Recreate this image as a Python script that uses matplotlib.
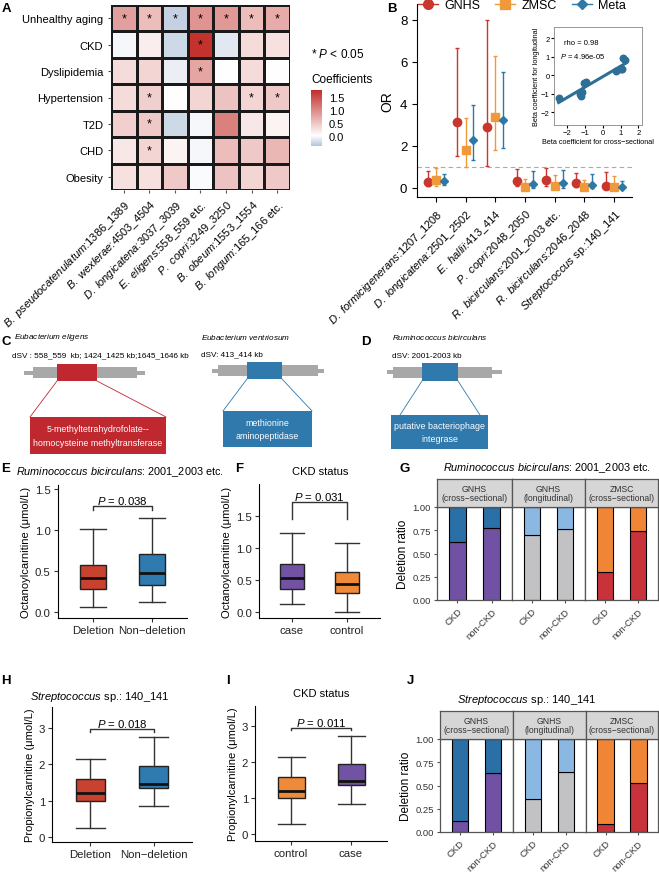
import matplotlib
matplotlib.use('Agg')
import matplotlib.pyplot as plt
import numpy as np
from matplotlib.colors import LinearSegmentedColormap, Normalize
from matplotlib.patches import Rectangle
from matplotlib.lines import Line2D

plt.rcParams['font.family'] = ['Liberation Sans', 'DejaVu Sans']
plt.rcParams['mathtext.fontset'] = 'custom'
plt.rcParams['mathtext.rm'] = 'Liberation Sans'
plt.rcParams['mathtext.it'] = 'Liberation Sans:italic'

W, H = 659, 878

# ---- data ----
hm_rows = ['Unhealthy aging', 'CKD', 'Dyslipidemia', 'Hypertension', 'T2D', 'CHD', 'Obesity']
hm_species = ['B. pseudocatenulatum', 'B. wexlerae', 'D. longicatena', 'E. eligens',
              'P. copri', 'B. obeum', 'B. longum']
hm_regions = [':1386_1389', ':4503_4504', ':3037_3039', ':558_559 etc.',
              ':3249_3250', ':1553_1554', ':165_166 etc.']
hm_coef = [[0.80, 0.55, -0.30, 0.90, 0.85, 0.55, 0.70],
           [-0.05, 0.15, -0.25, 1.70, -0.15, 0.30, 0.25],
           [0.30, 0.35, -0.10, 0.75, 0.00, 0.30, 0.00],
           [0.30, 0.40, 0.00, 0.35, 0.50, 0.35, 0.45],
           [0.40, 0.45, -0.25, -0.05, 1.05, 0.20, 0.10],
           [0.20, 0.35, 0.10, -0.05, 0.55, 0.45, 0.60],
           [0.25, 0.25, 0.45, -0.03, 0.50, 0.35, 0.45]]
hm_sig = [[1, 1, 1, 1, 1, 1, 1],
          [0, 0, 0, 1, 0, 0, 0],
          [0, 0, 0, 1, 0, 0, 0],
          [0, 1, 0, 0, 0, 1, 1],
          [0, 1, 0, 0, 0, 0, 0],
          [0, 1, 0, 0, 0, 0, 0],
          [0, 0, 0, 0, 0, 0, 0]]

b_species = ['D. formicigenerans', 'D. longicatena', 'E. hallii', 'P. copri',
             'R. bicirculans', 'R. bicirculans', 'Streptococcus']
b_regions = [':1207_1208', ':2501_2502', ':413_414', ':2048_2050',
             ':2001_2003 etc.', ':2046_2048', ' sp.:140_141']
gnhs_or = [0.30, 3.15, 2.90, 0.35, 0.40, 0.25, 0.10]
gnhs_lo = [0.10, 1.50, 1.05, 0.10, 0.10, 0.05, 0.00]
gnhs_hi = [0.80, 6.65, 8.00, 0.90, 0.95, 0.70, 0.75]
zmsc_or = [0.40, 1.80, 3.40, 0.05, 0.10, 0.05, 0.05]
zmsc_lo = [0.10, 1.00, 1.80, 0.00, 0.00, 0.00, 0.00]
zmsc_hi = [0.95, 3.35, 6.30, 0.45, 0.60, 0.40, 0.55]
meta_or = [0.35, 2.30, 3.25, 0.20, 0.25, 0.15, 0.05]
meta_lo = [0.15, 1.35, 1.90, 0.00, 0.00, 0.00, 0.00]
meta_hi = [0.65, 3.95, 5.50, 0.80, 0.85, 0.65, 0.35]

cross_beta = [-2.5, -1.3, -1.25, -1.2, -1.05, -0.95, 0.75, 1.0, 1.1, 1.15, 1.25]
long_beta = [-1.25, -1.0, -1.15, -0.9, -0.45, -0.4, 0.22, 0.32, 0.35, 0.9, 0.8]

e_groups = ['Deletion', 'Non\u2212deletion']
e_whislo = [0.06, 0.13]
e_q1 = [0.28, 0.33]
e_med = [0.42, 0.48]
e_q3 = [0.58, 0.71]
e_whishi = [1.02, 1.15]

f_groups = ['case', 'control']
f_whislo = [0.12, 0.00]
f_q1 = [0.36, 0.30]
f_med = [0.53, 0.43]
f_q3 = [0.75, 0.62]
f_whishi = [1.23, 1.08]

h_groups = ['Deletion', 'Non\u2212deletion']
h_whislo = [0.25, 0.85]
h_q1 = [1.00, 1.35]
h_med = [1.20, 1.47]
h_q3 = [1.60, 1.95]
h_whishi = [2.15, 2.75]

i_groups = ['control', 'case']
i_whislo = [0.27, 0.83]
i_q1 = [1.00, 1.36]
i_med = [1.19, 1.46]
i_q3 = [1.58, 1.94]
i_whishi = [2.14, 2.72]

facets = ['GNHS\n(cross\u2212sectional)', 'GNHS\n(longitudinal)', 'ZMSC\n(cross\u2212sectional)']
ckd_status = ['CKD', 'non-CKD']
g_deletion = [[0.62, 0.77], [0.70, 0.76], [0.30, 0.74]]
j_deletion = [[0.12, 0.63], [0.36, 0.64], [0.09, 0.53]]

RED = '#c8372d'
ORANGE = '#f0993a'
BLUE = '#2e78a8'
PURPLE = '#7252a2'
BOXORANGE = '#ef8a3a'
facet_cols = [('#7151a3', '#2a6fa5'), ('#c2c2c4', '#8ab8e2'), ('#c8323a', '#f08535')]


def itl(s):
    return r'$\mathit{' + s.replace(' ', r'\ ') + '}$'


fig = plt.figure(figsize=(W / 100, H / 100), dpi=100)


def axpx(x0, y0, x1, y1):
    return fig.add_axes([x0 / W, 1 - y1 / H, (x1 - x0) / W, (y1 - y0) / H])


def T(x, y, s, **kw):
    kw.setdefault('va', 'center')
    return fig.text(x / W, 1 - y / H, s, **kw)


# overlay for the gene diagrams
ov = fig.add_axes([0, 0, 1, 1])
ov.set_xlim(0, W)
ov.set_ylim(H, 0)
ov.axis('off')

# ---- A: heatmap ----
vmin, vmax = -0.4, 1.75
cmap = LinearSegmentedColormap.from_list(
    'bwr_gg', [(0, '#b3c3da'), (-vmin / (vmax - vmin), '#ffffff'), (1, '#c22d28')])
norm = Normalize(vmin, vmax)
ax = axpx(111, 6, 290, 191)
ax.pcolormesh(np.arange(8), np.arange(8), np.array(hm_coef), cmap=cmap, norm=norm,
              edgecolors='#1a1a1a', linewidth=1.0)
ax.set_xlim(0, 7)
ax.set_ylim(7, 0)
for i in range(7):
    for j in range(7):
        if hm_sig[i][j]:
            ax.text(j + 0.5, i + 0.5, '*', ha='center', va='center', fontsize=9)
ax.set_yticks(np.arange(7) + 0.5, hm_rows, fontsize=8)
ax.set_xticks(np.arange(7) + 0.5, [itl(s) + r for s, r in zip(hm_species, hm_regions)],
              rotation=45, ha='right', rotation_mode='anchor', fontsize=8)
ax.tick_params(length=2, color='#555555')
for s in ax.spines.values():
    s.set_visible(False)

cax = axpx(311, 91, 322, 147)
sm = plt.cm.ScalarMappable(norm=norm, cmap=cmap)
cb = fig.colorbar(sm, cax=cax, ticks=[0, 0.5, 1.0, 1.5])
cb.outline.set_visible(False)
cb.ax.set_yticklabels(['0.0', '0.5', '1.0', '1.5'])
cb.ax.tick_params(labelsize=8, length=2, color='white', pad=3)
T(311, 55, r'* $\mathit{P}$ < 0.05', fontsize=8.5)
T(311, 80, 'Coefficients', fontsize=8.5)

# ---- B: OR plot ----
axb = axpx(417, 5, 632, 198)
xb = np.arange(1, 8)
series = [(gnhs_or, gnhs_lo, gnhs_hi, -0.28, RED, 'o', 6, 'GNHS'),
          (zmsc_or, zmsc_lo, zmsc_hi, 0.0, ORANGE, 's', 5.5, 'ZMSC'),
          (meta_or, meta_lo, meta_hi, 0.26, BLUE, 'D', 4.2, 'Meta')]
handles = []
for v, lo, hi, off, col, mk, ms, name in series:
    v = np.array(v)
    axb.errorbar(xb + off, v, yerr=[v - np.array(lo), np.array(hi) - v], fmt=mk, color=col,
                 ms=ms, elinewidth=1, capsize=1.5, capthick=1)
    handles.append(Line2D([], [], color=col, marker=mk, ms=ms + 1, lw=1, label=name))
axb.axhline(1, ls=(0, (4, 3)), color='#aaaaaa', lw=0.8, zorder=0)
axb.set_xlim(0.36, 7.6)
axb.set_ylim(-0.43, 8.76)
axb.set_yticks([0, 2, 4, 6, 8])
axb.set_xticks(xb, [itl(s) + r for s, r in zip(b_species, b_regions)],
               rotation=45, ha='right', rotation_mode='anchor', fontsize=8)
axb.tick_params(axis='y', labelsize=9.5)
axb.set_ylabel('OR', fontsize=10, labelpad=4)
for s in ['top', 'right']:
    axb.spines[s].set_visible(False)
fig.legend(handles=handles, loc='center', bbox_to_anchor=(522 / W, 1 - 6 / H), ncol=3,
           frameon=False, fontsize=9, handlelength=1.6, columnspacing=1.2, handletextpad=0.5)

# inset
axi = axpx(554, 28, 642, 126)
axi.scatter(cross_beta, long_beta, s=22, color='#2f6f96', zorder=3)
k, c0 = np.polyfit(cross_beta, long_beta, 1)
xl = np.array([min(cross_beta), max(cross_beta)])
axi.plot(xl, k * xl + c0, color='#2f6f96', lw=2.2)
axi.set_xlim(-2.76, 2.2)
axi.set_ylim(-2.7, 2.6)
axi.set_xticks([-2, -1, 0, 1, 2])
axi.set_yticks([-2, -1, 0, 1, 2])
axi.tick_params(labelsize=5.5, length=2, pad=1)
for s in axi.spines.values():
    s.set_color('#888888')
    s.set_linewidth(0.6)
axi.set_xlabel('Beta coefficient for cross\u2212sectional', fontsize=5.2, labelpad=1)
axi.set_ylabel('Beta coefficient for longitudinal', fontsize=5.2, labelpad=1)
axi.text(-2.2, 1.75, 'rho = 0.98', fontsize=5.5, va='center')
axi.text(-2.4, 1.05, r'$\mathit{P}$ = 4.96e-05', fontsize=5.5, va='center')


# ---- C / D: gene diagrams ----
def gene(thin, thick, box, box_y, low, low_y, low_join, color, label):
    ym = (box_y[0] + box_y[1]) / 2
    ov.add_patch(Rectangle((thin[0], ym - 2), thin[1] - thin[0], 4, color='#a8a8a8', lw=0))
    ov.add_patch(Rectangle((thick[0], ym - 5.5), thick[1] - thick[0], 11, color='#a8a8a8', lw=0))
    ov.add_patch(Rectangle((box[0], box_y[0]), box[1] - box[0], box_y[1] - box_y[0],
                           color=color, lw=0))
    ov.plot([box[0], low_join[0]], [box_y[1], low_y[0]], color=color, lw=0.6)
    ov.plot([box[1], low_join[1]], [box_y[1], low_y[0]], color=color, lw=0.6)
    ov.add_patch(Rectangle((low[0], low_y[0]), low[1] - low[0], low_y[1] - low_y[0],
                           color=color, lw=0))
    ov.text((low[0] + low[1]) / 2, (low_y[0] + low_y[1]) / 2, label, color='white',
            ha='center', va='center', fontsize=6.4, linespacing=1.6)


gene((24, 145), (33, 137), (57, 97), (365, 382), (30, 166), (418, 455), (30, 166),
     '#c0282f', '5-methyltetrahydrofolate--\nhomocysteine methyltransferase')
gene((212, 324), (218, 318), (247, 282), (363, 380), (223, 312), (412, 448), (223, 312),
     '#2f79ad', 'methionine\naminopeptidase')
gene((387, 502), (393, 492), (422, 458), (364, 382), (391, 488), (416, 450), (400, 480),
     '#2f79ad', 'putative bacteriophage\nintegrase')
T(14, 338, itl('Eubacterium eligens'), fontsize=5.9)
T(12, 356, 'dSV : 558_559  kb; 1424_1425 kb;1645_1646 kb', fontsize=5.9)
T(201, 338, itl('Eubacterium ventriosum'), fontsize=5.9)
T(201, 355, 'dSV: 413_414 kb', fontsize=5.9)
T(392, 338, itl('Ruminococcus bicirculans'), fontsize=5.9)
T(392, 357, 'dSV: 2001-2003 kb', fontsize=5.9)


# ---- E, F, H, I: boxplots ----
def boxpanel(rect, groups, wl, q1, md, q3, wh, colors, ylim, yticks, ylabel, brk):
    a = axpx(*rect)
    stats = [dict(whislo=wl[n], q1=q1[n], med=md[n], q3=q3[n], whishi=wh[n], fliers=[])
             for n in range(2)]
    bp = a.bxp(stats, positions=[1, 2], widths=0.45, capwidths=0.45, patch_artist=True,
               showfliers=False,
               boxprops=dict(edgecolor='#222222', lw=1.0),
               medianprops=dict(color='#111111', lw=2.0),
               whiskerprops=dict(color='#333333', lw=1.0),
               capprops=dict(color='#333333', lw=1.0))
    for p, c in zip(bp['boxes'], colors):
        p.set_facecolor(c)
    a.set_xlim(0.4, 2.6)
    a.set_ylim(*ylim)
    a.set_yticks(yticks)
    a.set_xticks([1, 2], groups)
    a.tick_params(labelsize=8.2, length=3, color='#333333', labelcolor='#222222', pad=2)
    a.set_ylabel(ylabel, fontsize=8, labelpad=3)
    for s in ['top', 'right']:
        a.spines[s].set_visible(False)
    ybar, ytip, ptxt = brk
    a.plot([1, 1, 2, 2], [ytip, ybar, ybar, ytip], color='#333333', lw=1)
    a.text(1.5, ybar, r'$\mathit{P}$ = ' + ptxt, ha='center', va='bottom', fontsize=8.2)
    return a


boxpanel((57.6, 486, 187.4, 619), e_groups, e_whislo, e_q1, e_med, e_q3, e_whishi,
         ['#c9412f', '#2f7bb0'], (-0.07, 1.55), [0, 0.5, 1.0, 1.5],
         'Octanoylcarnitine (\u03bcmol/L)', (1.29, 1.25, '0.038'))
boxpanel((259, 485, 380, 619), f_groups, f_whislo, f_q1, f_med, f_q3, f_whishi,
         [PURPLE, BOXORANGE], (-0.094, 2.0), [0, 0.5, 1.0, 1.5],
         'Octanoylcarnitine (\u03bcmol/L)', (1.72, 1.46, '0.031'))
boxpanel((52, 708, 192, 843), h_groups, h_whislo, h_q1, h_med, h_q3, h_whishi,
         ['#c9412f', '#2f7bb0'], (-0.14, 3.58), [0, 1, 2, 3],
         'Propionylcarnitine (\u03bcmol/L)', (2.97, 2.88, '0.018'))
boxpanel((255, 707, 387, 842), i_groups, i_whislo, i_q1, i_med, i_q3, i_whishi,
         [BOXORANGE, PURPLE], (-0.19, 3.55), [0, 1, 2, 3],
         'Propionylcarnitine (\u03bcmol/L)', (2.95, 2.88, '0.011'))


# ---- G, J: stacked bars ----
def barfacets(xs, ys, y0, y1, data):
    for kf in range(3):
        a = axpx(xs[kf], y0, xs[kf + 1], y1)
        bot = np.array(data[kf])
        a.bar([1, 2], bot, width=0.5, color=facet_cols[kf][0], edgecolor='black', lw=0.8)
        a.bar([1, 2], 1 - bot, bottom=bot, width=0.5, color=facet_cols[kf][1],
              edgecolor='black', lw=0.8)
        a.set_xlim(0.4, 2.6)
        a.set_ylim(0, 1)
        a.set_yticks([0, 0.25, 0.5, 0.75, 1.0])
        a.set_xticks([1, 2], ckd_status, rotation=45, ha='right', rotation_mode='anchor')
        a.tick_params(labelsize=6.8, length=2.5, color='#555555', labelcolor='#333333', pad=2)
        if kf == 0:
            a.set_yticklabels(['0.00', '0.25', '0.50', '0.75', '1.00'])
            a.set_ylabel('Deletion ratio', fontsize=8.5, labelpad=2)
        else:
            a.tick_params(axis='y', left=False, labelleft=False)
        for s in a.spines.values():
            s.set_color('#555555')
            s.set_linewidth(0.9)
        st = axpx(xs[kf], ys, xs[kf + 1], y0)
        st.set_facecolor('#d6d6d6')
        st.set_xticks([])
        st.set_yticks([])
        for s in st.spines.values():
            s.set_color('#555555')
            s.set_linewidth(0.9)
        st.text(0.5, 0.5, facets[kf], ha='center', va='center', fontsize=6.2,
                color='#333333', transform=st.transAxes, linespacing=1.0)


barfacets([437, 512, 585, 658], 480, 508, 601, g_deletion)
barfacets([440, 513, 586, 658], 712, 740, 833, j_deletion)

# ---- titles and panel letters ----
T(16, 472, itl('Ruminococcus bicirculans') + ': 2001_2003 etc.', fontsize=7.8)
T(320, 472, 'CKD status', fontsize=8, ha='center')
T(443, 468, itl('Ruminococcus bicirculans') + ': 2001_2003 etc.', fontsize=7.8)
T(100, 697, itl('Streptococcus') + ' sp.: 140_141', fontsize=8, ha='center')
T(321, 694, 'CKD status', fontsize=8, ha='center')
T(527, 700, itl('Streptococcus') + ' sp.: 140_141', fontsize=8, ha='center')

for lab, x, y in [('A', 6, 9), ('B', 392, 9), ('C', 6, 342), ('D', 366, 342), ('E', 6, 469),
                  ('F', 239, 469), ('G', 405, 469), ('H', 6, 681), ('I', 228, 681),
                  ('J', 410, 681)]:
    T(x, y, lab, fontsize=9.5, fontweight='bold', ha='center')

fig.savefig('out.png', dpi=100)
